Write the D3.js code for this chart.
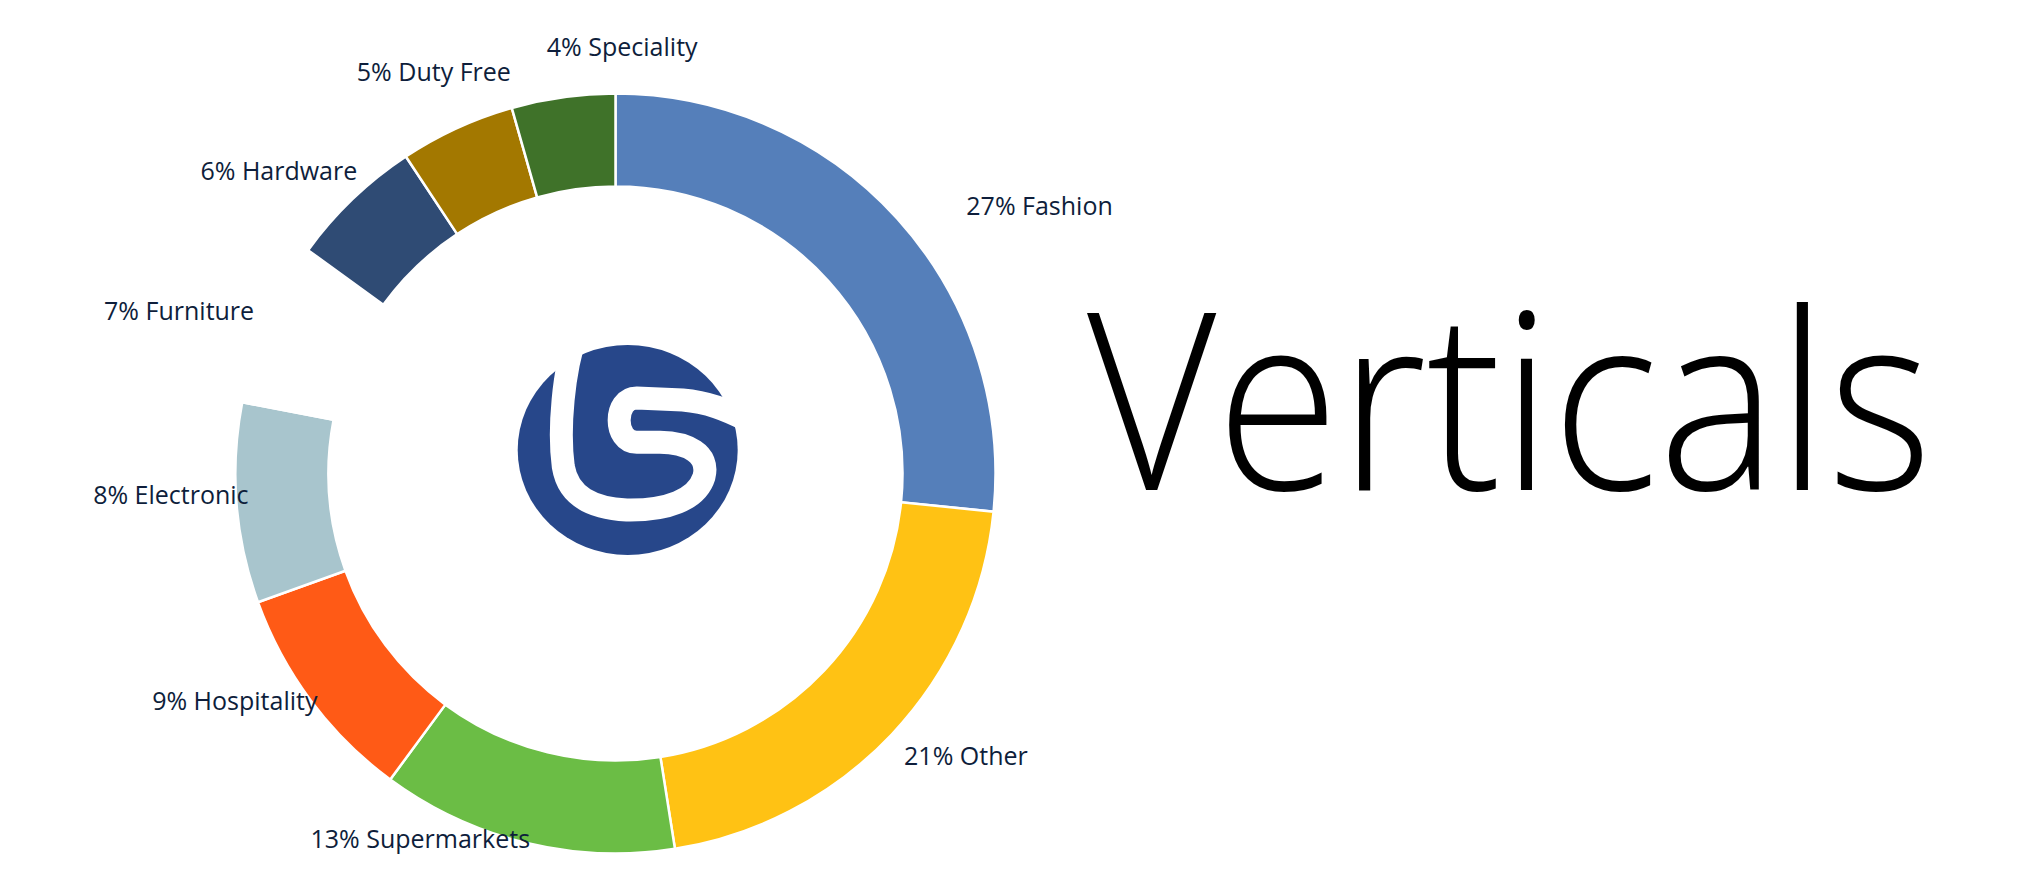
<!DOCTYPE html>
<html>
<head>
<meta charset="utf-8">
<script src="https://cdn.jsdelivr.net/npm/d3@7"></script>
<style>
  html, body { margin: 0; padding: 0; background: #ffffff; }
  svg { display: block; }
</style>
</head>
<body>
<svg id="chart" width="2024" height="869"></svg>
<script>
// ---- data ----
const categories = ["Fashion", "Other", "Supermarkets", "Hospitality", "Electronic", "Furniture", "Hardware", "Duty Free", "Speciality"];
const shares = [26.6, 20.9, 12.6, 9.4, 8.5, 7.0, 5.7, 4.9, 4.4];        // slice sizes
const shownPercents = [27, 21, 13, 9, 8, 7, 6, 5, 4];                   // label text as printed
const sliceColors = ["#557fba", "#ffc214", "#6bbd45", "#ff5a16", "#a8c5cd", "#ffffff", "#2f4b74", "#a37800", "#3f7229"];
const title = "Verticals";

// ---- layout (label nudges relative to the slice mid-angle anchor) ----
const labelNudge = [[94, 31], [27, -23], [-90, -67], [-24, -39], [-1, -13], [-28, 14], [-29, 19], [4, 3], [68, 14]];

const svg = d3.select("#chart");
const W = 2024, H = 869;
svg.append("rect").attr("width", W).attr("height", H).attr("fill", "#ffffff");

const cx = 615.5, cy = 473.5;
const outerR = 380, innerR = 287, labelR = 445;

const data = categories.map((c, i) => ({ name: c, value: shares[i], shown: shownPercents[i], color: sliceColors[i], nudge: labelNudge[i] }));

const pie = d3.pie().sort(null).value(d => d.value).startAngle(0).endAngle(2 * Math.PI);
const arcs = pie(data);
const arc = d3.arc().innerRadius(innerR).outerRadius(outerR);

const g = svg.append("g").attr("transform", `translate(${cx},${cy})`);
g.selectAll("path.slice")
  .data(arcs)
  .join("path")
  .attr("class", "slice")
  .attr("d", arc)
  .attr("fill", d => d.data.color)
  .attr("stroke", "#ffffff")
  .attr("stroke-width", 2.5)
  .attr("stroke-linejoin", "miter");

// labels
g.selectAll("text.lbl")
  .data(arcs)
  .join("text")
  .attr("class", "lbl")
  .attr("x", d => {
    const a = (d.startAngle + d.endAngle) / 2;
    return labelR * Math.sin(a) + d.data.nudge[0];
  })
  .attr("y", d => {
    const a = (d.startAngle + d.endAngle) / 2;
    return -labelR * Math.cos(a) + d.data.nudge[1];
  })
  .attr("dy", "0.36em")
  .attr("text-anchor", "middle")
  .attr("font-family", "'Open Sans', 'Noto Sans', sans-serif")
  .attr("font-size", 25)
  .attr("fill", "#0e1e3b")
  .text(d => `${d.data.shown}% ${d.data.name}`);

// ---- logo in the centre ----
const logo = svg.append("g").attr("transform", "translate(627.7,450)");
logo.append("ellipse").attr("rx", 110).attr("ry", 105).attr("fill", "#27478a");
logo.append("path")
  .attr("d", "M-51,-116.7 C-64.4,-80 -69.4,-20 -64.4,16.7 C-59.4,46.7 -34.4,58.3 -1,60 C39,60.7 69,50 76.3,26.7 C82.3,3.3 59,-7.3 32.3,-7.7 L9,-7.7 C-14.4,-7.7 -14.4,-52 9,-52 L55,-50 C80,-48 99,-40 119,-30")
  .attr("fill", "none")
  .attr("stroke", "#ffffff")
  .attr("stroke-width", 23)
  .attr("stroke-linecap", "round");

// ---- title ----
svg.append("text")
  .attr("x", 1087)
  .attr("y", 490)
  .attr("font-family", "'Open Sans', 'Lato', sans-serif")
  .attr("font-weight", 300)
  .attr("font-size", 248)
  .attr("textLength", 845)
  .attr("lengthAdjust", "spacingAndGlyphs")
  .attr("fill", "#000000")
  .text(title);
</script>
</body>
</html>
